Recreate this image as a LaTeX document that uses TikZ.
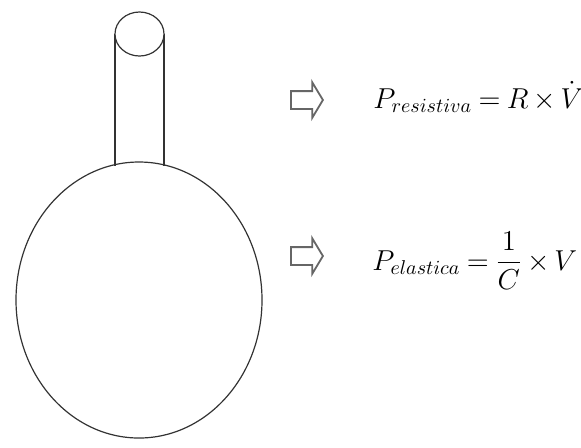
\documentclass[tikz,border=0pt]{standalone}
\usepackage{tikz}
\usetikzlibrary{shapes.arrows,positioning}
\usepackage{amsmath}
\tikzset{
  bulb/.style  = {draw=black!80, line width=0.6pt},
  arr/.style   = {single arrow, draw=black!60, line width=0.9pt, fill=white,
                  inner sep=4pt, minimum height=16pt, minimum width=17pt,
                  single arrow head extend=4.5pt, single arrow tip angle=118},
  eq/.style    = {inner sep=0pt, font=\fontsize{14}{16}\selectfont,
                  execute at begin node={\thickmuskip=4mu\medmuskip=3mu}}
}
\begin{document}
\begin{tikzpicture}[x=0.5pt, y=-0.5pt]
    \useasboundingbox (0,0) rectangle (581,447);
    % balão e tubo
    \draw[bulb] (139,300) ellipse [x radius=123, y radius=138];
    \draw[bulb] (115,34) -- (115,166);
    \draw[bulb] (164,34) -- (164,166);
    \draw[bulb, fill=white] (139.5,34) ellipse [x radius=24.5, y radius=22];
    % setas e equações
    \node[arr, anchor=west] (a1) at (290,100) {};
    \node[arr, anchor=west] (a2) at (290,256) {};
    \node[eq, anchor=base west] (e1) at (373,108) {$P_{resistiva} = R\times\dot{V}$};
    \node[eq, anchor=base west] (e2) at (372,270) {$P_{elastica}= \dfrac{1}{C}\times V$};
\end{tikzpicture}
\end{document}
